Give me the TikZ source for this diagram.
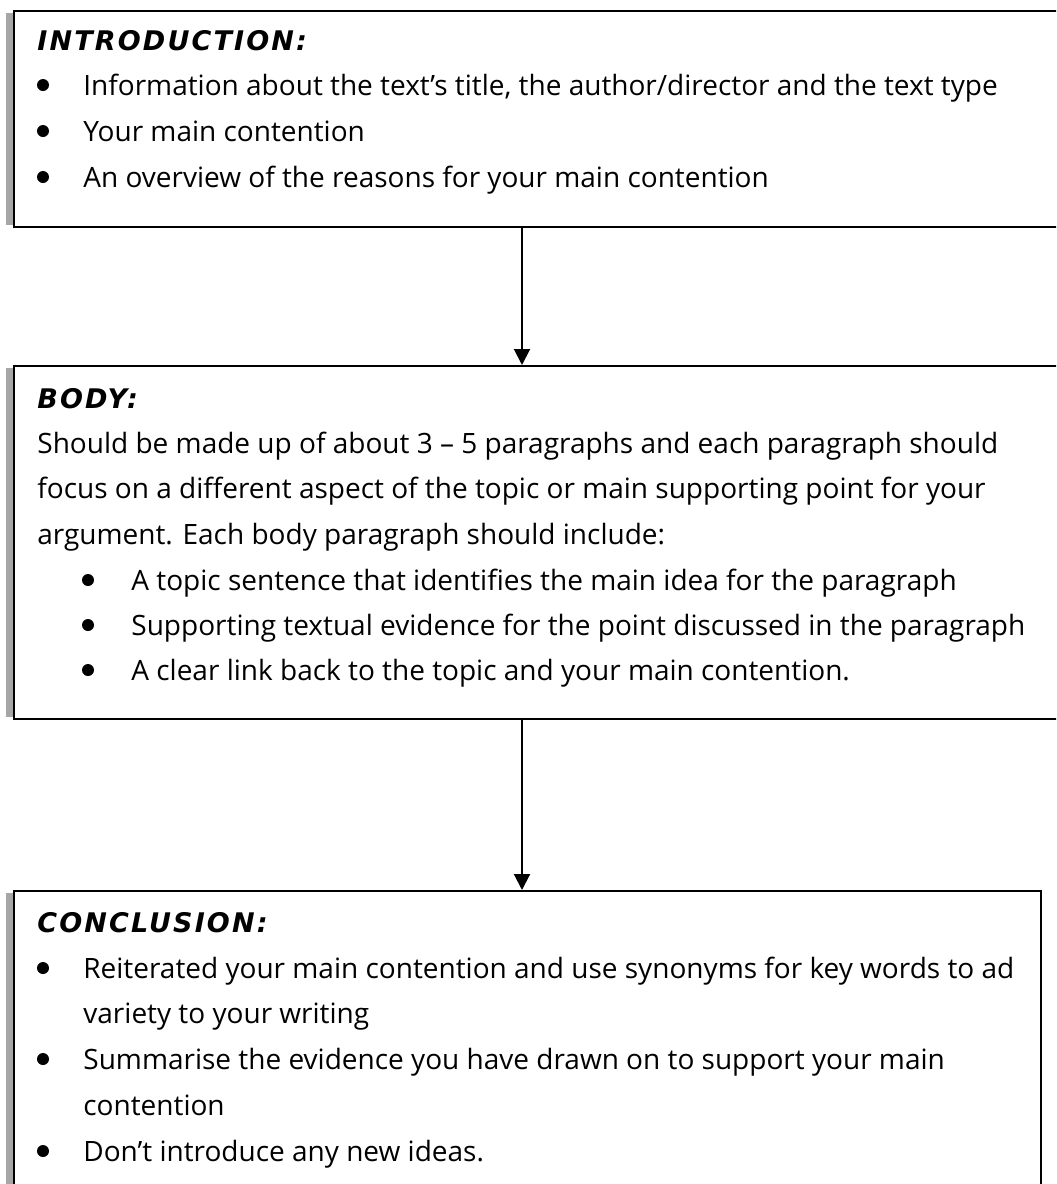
\documentclass[tikz,border=0pt]{standalone}
\usepackage{fontspec}
\setmainfont{Open Sans}
\newfontfamily\headfont{DejaVu Sans}[LetterSpace=8]
\usetikzlibrary{arrows.meta}
\begin{document}
\begin{tikzpicture}[x=0.5pt,y=-0.5pt,
  frame/.style={draw=black, line width=1pt, fill=white, inner sep=0pt, anchor=north west},
  bar/.style={fill=black!35, draw=none},
  head/.style={anchor=base west, inner sep=0pt, font=\headfont\bfseries\itshape\fontsize{13.5}{15}\selectfont},
  txt/.style={anchor=base west, inner sep=0pt, font=\fontsize{14}{16}\selectfont},
  dot/.style={circle, fill=black, inner sep=0pt, minimum size=6pt},
  flow/.style={line width=1pt, -{Triangle[width=8pt,length=8pt]}}
]
\clip (0,0) rectangle (1056,1184);
\fill[white] (0,0) rectangle (1056,1184);

% grey bars along the left edges
\fill[bar] (6,13) rectangle (13,225);
\fill[bar] (6,368) rectangle (13,717);
\fill[bar] (6,893) rectangle (13,1184);

% the three boxes
\node[frame, minimum width=530pt, minimum height=108pt] (intro) at (13,10) {};
\node[frame, minimum width=530pt, minimum height=176.5pt] (body) at (13,365) {};
\node[frame, minimum width=513.5pt, minimum height=155pt] (concl) at (13,890) {};

% connectors
\coordinate (ax) at (522,0);
\draw[flow] (intro.south -| ax) -- (body.north -| ax);
\draw[flow] (body.south -| ax) -- (concl.north -| ax);

% introduction
\node[head] (ih) at (37,50) {INTRODUCTION:};
\node[dot] (ib1) at (43,85) {};
\node[txt] (it1) at (83,95) {Information about the text’s title, the author/director and the text type};
\node[dot] (ib2) at (43,131) {};
\node[txt] (it2) at (83,141) {Your main contention};
\node[dot] (ib3) at (43,177) {};
\node[txt] (it3) at (83,187) {An overview of the reasons for your main contention};

% body
\node[head] (bh) at (37,408) {BODY:};
\node[txt] (bp1) at (37,453) {Should be made up of about 3 – 5 paragraphs and each paragraph should};
\node[txt] (bp2) at (37,498) {focus on a different aspect of the topic or main supporting point for your};
\node[txt] (bp3) at (37,544) {argument. Each body paragraph should include:};
\node[dot] (bb1) at (88,580) {};
\node[txt] (bt1) at (131,590) {A topic sentence that identifies the main idea for the paragraph};
\node[dot] (bb2) at (88,625) {};
\node[txt] (bt2) at (131,635) {Supporting textual evidence for the point discussed in the paragraph};
\node[dot] (bb3) at (88,670) {};
\node[txt] (bt3) at (131,680) {A clear link back to the topic and your main contention.};

% conclusion
\node[head] (ch) at (37,932) {CONCLUSION:};
\node[dot] (cb1) at (43,968) {};
\node[txt] (ct1) at (83,978) {Reiterated your main contention and use synonyms for key words to ad};
\node[txt] (ct1b) at (83,1023) {variety to your writing};
\node[dot] (cb2) at (43,1059) {};
\node[txt] (ct2) at (83,1069) {Summarise the evidence you have drawn on to support your main};
\node[txt] (ct2b) at (83,1115) {contention};
\node[dot] (cb3) at (43,1151) {};
\node[txt] (ct3) at (83,1161) {Don’t introduce any new ideas.};
\end{tikzpicture}
\end{document}
